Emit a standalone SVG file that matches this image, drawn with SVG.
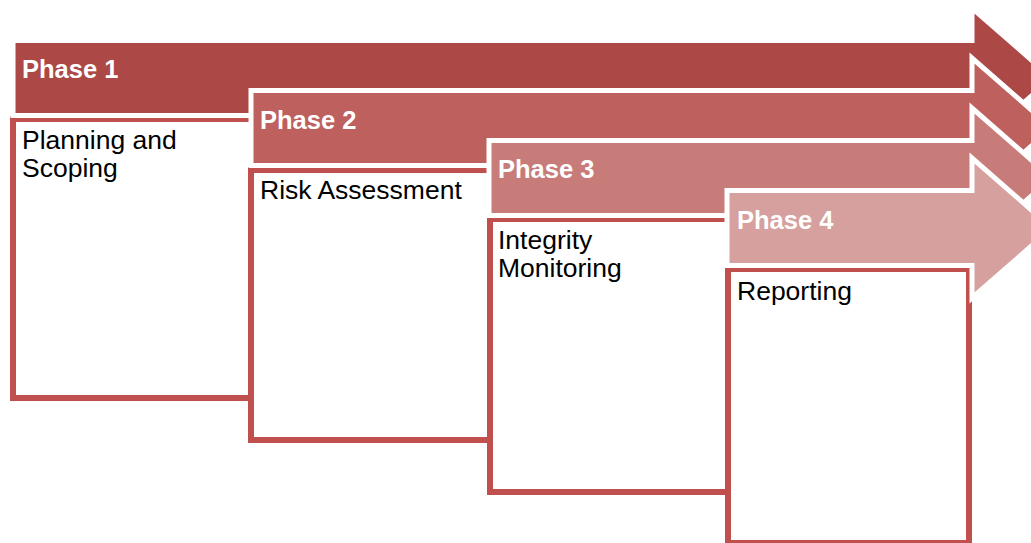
<svg xmlns="http://www.w3.org/2000/svg" width="1031" height="543" viewBox="0 0 1031 543">
<style>
.box{fill:#FFFFFF;stroke:#C0504D;stroke-width:6}
.arrow{stroke:#FFFFFF;stroke-width:5;stroke-linejoin:miter}
.ph{font-family:"Liberation Sans",Arial,sans-serif;font-weight:bold;font-size:25.5px;fill:#FFFFFF}
.tx{font-family:"Liberation Sans",Arial,sans-serif;font-size:26.5px;fill:#000000}
</style>
<rect width="1031" height="543" fill="#FFFFFF"/>
<g id="box1"><rect class="box" x="13" y="119" width="240" height="279"/></g>
<g id="box2"><rect class="box" x="251" y="170" width="240" height="270"/></g>
<g id="box3"><rect class="box" x="490" y="219" width="238" height="273"/></g>
<g id="box4"><rect class="box" x="728" y="269" width="241" height="274"/></g>
<g id="phase1"><polygon class="arrow" fill="#AC4846" points="13,40.5 972,40.5 972,8 1052,78 972,148 972,115.5 13,115.5"/>
<text class="ph" x="22" y="78">Phase 1</text></g>
<g id="phase2"><polygon class="arrow" fill="#BE605E" points="251,90.5 972,90.5 972,58 1052,128 972,198 972,165.5 251,165.5"/>
<text class="ph" x="260" y="129">Phase 2</text></g>
<g id="phase3"><polygon class="arrow" fill="#C87C7A" points="489,140.5 972,140.5 972,108 1052,178 972,248 972,215.5 489,215.5"/>
<text class="ph" x="498" y="178">Phase 3</text></g>
<g id="phase4"><polygon class="arrow" fill="#D5A09E" points="727,190.5 972,190.5 972,158 1052,228 972,298 972,265.5 727,265.5"/>
<text class="ph" x="737" y="229">Phase 4</text></g>
<g id="labels">
<text class="tx" x="22" y="149">Planning and</text>
<text class="tx" x="22" y="177">Scoping</text>
<text class="tx" x="260" y="199">Risk Assessment</text>
<text class="tx" x="498" y="249">Integrity</text>
<text class="tx" x="498" y="277">Monitoring</text>
<text class="tx" x="737" y="300">Reporting</text>
</g>
<g id="connectors"></g>
</svg>
